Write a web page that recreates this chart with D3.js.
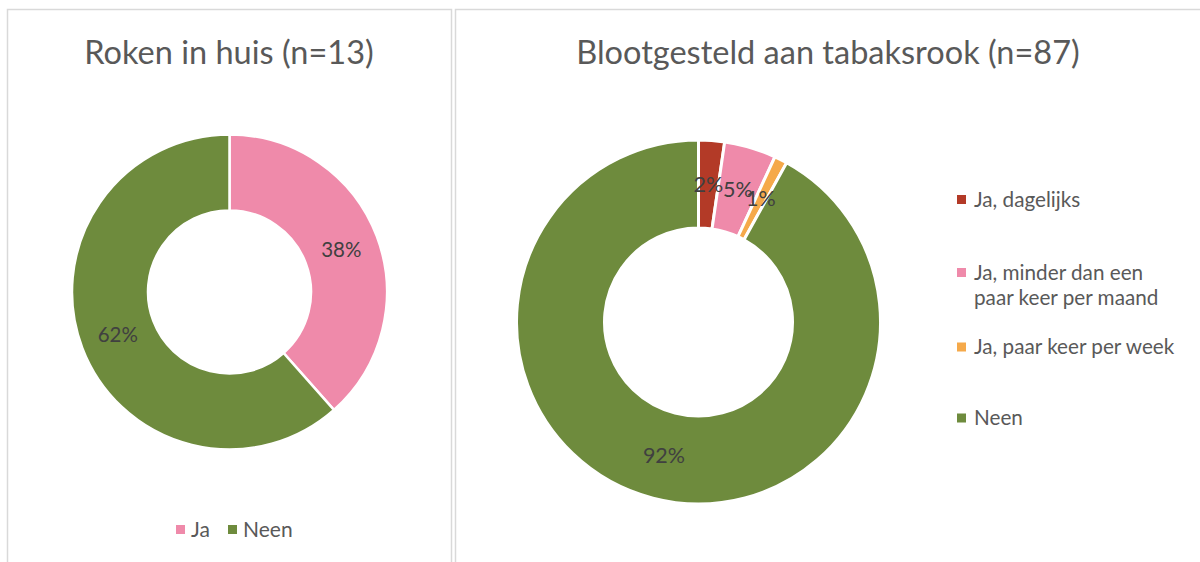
<!DOCTYPE html>
<html><head><meta charset="utf-8">
<script src="https://cdn.jsdelivr.net/npm/d3@7"></script>
<style>body{margin:0;background:#fff;}svg{display:block;font-family:Lato,"Open Sans",sans-serif;}</style>
</head><body>
<svg id="c" width="1200" height="562"></svg>
<script>
const leftCategories = ["Ja", "Neen"];
const leftValues = [5, 8];
const leftLabels = ["38%", "62%"];
const leftColors = ["#EF8AAA", "#6E8B3D"];
const rightCategories = ["Ja, dagelijks", "Ja, minder dan een paar keer per maand", "Ja, paar keer per week", "Neen"];
const rightLegendLines = [["Ja, dagelijks"], ["Ja, minder dan een", "paar keer per maand"], ["Ja, paar keer per week"], ["Neen"]];
const rightValues = [2, 4, 1, 80];
const rightLabels = ["2%", "5%", "1%", "92%"];
const rightColors = ["#B33A27", "#EF8AAA", "#F5A94A", "#6E8B3D"];

const svg = d3.select("#c");
// panel borders
svg.append("rect").attr("x",7.5).attr("y",9.5).attr("width",444).attr("height",570)
  .attr("fill","none").attr("stroke","#D9D9D9").attr("stroke-width",1.5);
svg.append("rect").attr("x",455.5).attr("y",9.5).attr("width",760).attr("height",570)
  .attr("fill","none").attr("stroke","#D9D9D9").attr("stroke-width",1.5);

const textColor = "#595959";
const labelColor = "#404040";

function donut(cx, cy, rOut, rIn, values, colors, labels, strokeW, fs){
  const pie = d3.pie().sort(null).value(d=>d);
  const arcs = pie(values);
  const arc = d3.arc().innerRadius(rIn).outerRadius(rOut);
  const g = svg.append("g").attr("transform",`translate(${cx},${cy})`);
  g.selectAll("path").data(arcs).join("path")
    .attr("d",arc).attr("fill",(d,i)=>colors[i])
    .attr("stroke","#fff").attr("stroke-width",strokeW);
  const lab = d3.arc().innerRadius((rIn+rOut)/2).outerRadius((rIn+rOut)/2);
  g.selectAll("text").data(arcs).join("text")
    .attr("transform",d=>`translate(${lab.centroid(d)})`)
    .attr("text-anchor","middle").attr("dy","0.35em")
    .attr("font-size",fs).attr("fill",labelColor)
    .text((d,i)=>labels[i]);
}

// Left chart
svg.append("text").attr("x",229).attr("y",64).attr("text-anchor","middle")
  .attr("font-size",32.5).attr("fill",textColor).text("Roken in huis (n=13)");
donut(229.5, 292, 157.5, 81.5, leftValues, leftColors, leftLabels, 2.5, 20.5);
// left legend
const lx = [176, 228];
leftCategories.forEach((c,i)=>{
  svg.append("rect").attr("x",lx[i]).attr("y",525).attr("width",9).attr("height",9).attr("fill",leftColors[i]);
  svg.append("text").attr("x",lx[i]+15).attr("y",537).attr("font-size",21).attr("fill",textColor).text(c);
});

// Right chart
svg.append("text").attr("x",828).attr("y",64).attr("text-anchor","middle")
  .attr("font-size",32.5).attr("fill",textColor).text("Blootgesteld aan tabaksrook (n=87)");
donut(698.5, 322, 182, 94, rightValues, rightColors, rightLabels, 3, 21.5);
// right legend
const ly = [199.5, 272.5, 347, 418];
rightLegendLines.forEach((lines,i)=>{
  svg.append("rect").attr("x",957).attr("y",ly[i]-4.5).attr("width",9).attr("height",9).attr("fill",rightColors[i]);
  lines.forEach((t,j)=>{
    svg.append("text").attr("x",974).attr("y",ly[i]+7+j*25).attr("font-size",20.7).attr("fill",textColor).text(t);
  });
});
</script>
</body></html>
